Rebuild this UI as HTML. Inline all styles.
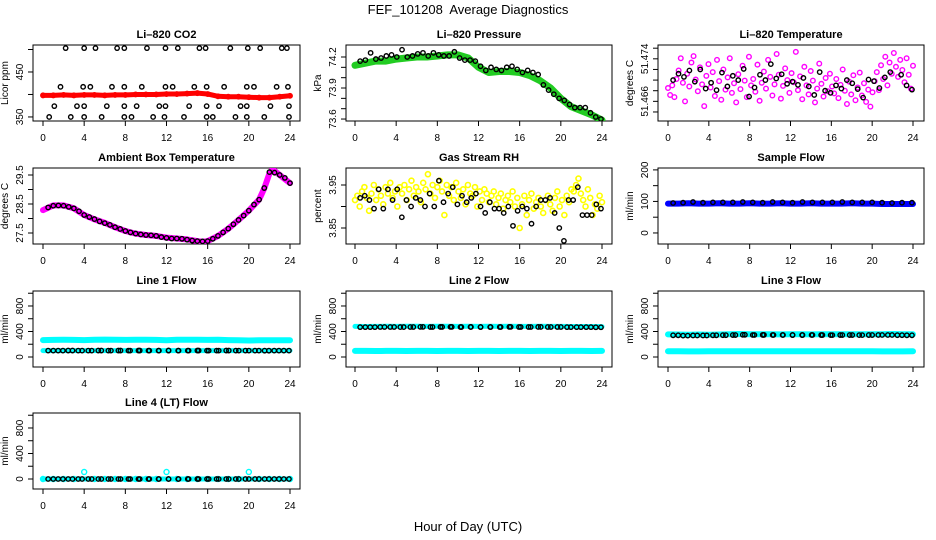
<!DOCTYPE html>
<html><head><meta charset="utf-8"><style>
html,body{margin:0;padding:0;background:#fff}
svg{display:block;font-family:"Liberation Sans",sans-serif}
</style></head><body>
<svg id="chart" width="936" height="540" viewBox="0 0 936 540">
<text x="468" y="14" text-anchor="middle" font-size="13" style="white-space:pre">FEF_101208  Average Diagnostics</text>
<text x="468" y="531" text-anchor="middle" font-size="13">Hour of Day (UTC)</text>
</svg>
<script>
// ---- data ----
const co2Red = [398,398,399,398,399,399,398,399,399,400,400,400,401,401,402,403,401,396,395,395,394,393,393,395,397];
const co2BlackT = [2.2,4.0,5.1,7.2,7.9,10.1,11.9,13.1,15.2,15.8,18.2,19.9,21.1,23.2,23.7,1.7,3.9,4.6,6.7,7.9,9.6,11.9,12.6,14.7,15.9,17.6,19.8,20.5,22.7,23.8,1.1,3.3,4.0,6.2,7.9,9.1,11.3,11.9,14.2,15.9,17.1,19.2,19.8,22.1,23.9,0.6,2.7,4.0,5.7,7.9,8.6,10.7,11.8,13.7,15.9,16.5,18.7,19.8,21.5,23.9];
const co2BlackV = [503,503,503,503,503,503,503,503,503,503,503,503,503,503,503,417,417,417,417,417,417,417,417,417,417,417,417,417,417,417,374,374,374,374,374,374,374,374,374,374,374,374,374,374,374,350,350,350,350,350,350,350,350,350,350,350,350,350,350,350];
const presGreen = [74.12,74.14,74.16,74.16,74.18,74.19,74.20,74.20,74.21,74.22,74.22,74.19,74.10,74.05,74.06,74.06,74.05,74.02,73.97,73.90,73.80,73.72,73.68,73.64,73.59];
const presBlack = [74.16,74.17,74.24,74.18,74.19,74.21,74.22,74.20,74.27,74.20,74.21,74.23,74.24,74.21,74.24,74.22,74.21,74.21,74.25,74.19,74.17,74.17,74.16,74.11,74.07,74.10,74.08,74.07,74.10,74.11,74.08,74.05,74.07,74.05,74.03,73.93,73.88,73.84,73.80,73.78,73.74,73.71,73.71,73.71,73.66,73.62,73.60];
const tempMagenta = [51.4685,51.4672,51.4690,51.4668,51.4702,51.4718,51.4741,51.4695,51.4660,51.4712,51.4688,51.4733,51.4745,51.4701,51.4679,51.4724,51.4692,51.4651,51.4708,51.4730,51.4686,
51.4715,51.4670,51.4738,51.4698,51.4663,51.4720,51.4682,51.4705,51.4741,51.4676,51.4694,51.4658,51.4711,51.4683,51.4727,51.4699,51.4668,51.4744,51.4690,
51.4702,51.4678,51.4729,51.4661,51.4695,51.4716,51.4684,51.4738,51.4706,51.4671,51.4692,51.4749,51.4710,51.4665,51.4689,51.4722,51.4700,51.4676,51.4713,
51.4696,51.4753,51.4681,51.4707,51.4664,51.4725,51.4690,51.4673,51.4717,51.4699,51.4658,51.4684,51.4731,51.4693,51.4669,51.4704,51.4679,51.4712,51.4688,
51.4675,51.4702,51.4666,51.4691,51.4720,51.4680,51.4655,51.4697,51.4673,51.4709,51.4662,51.4686,51.4714,51.4671,51.4694,51.4659,51.4682,51.4650,51.4677,
51.4698,51.4715,51.4681,51.4728,51.4702,51.4744,51.4690,51.4733,51.4712,51.4751,51.4725,51.4706,51.4738,51.4719,51.4696,51.4741,51.4710,51.4684,51.4727];
const tempBlack = [51.4700,51.4712,51.4706,51.4718,51.4697,51.4720,51.4684,51.4695,51.4681,51.4714,51.4688,51.4708,51.4700,51.4721,51.4669,51.4686,51.4710,51.4700,51.4730,51.4703,51.4711,51.4693,51.4697,51.4691,51.4704,51.4688,51.4672,51.4715,51.4680,51.4676,51.4690,51.4684,51.4700,51.4694,51.4683,51.4667,51.4701,51.4698,51.4685,51.4705,51.4715,51.4773,51.4710,51.4690,51.4682];
const ambT = [0,1,2,3,4,5,6,7,8,9,10,11,12,13,14,15,15.5,16,17,18,19,20,21,21.5,22,22.3,23,24];
const ambV = [28.29,28.45,28.45,28.35,28.12,27.97,27.85,27.70,27.57,27.48,27.43,27.40,27.34,27.31,27.28,27.22,27.20,27.22,27.40,27.65,27.95,28.27,28.65,29.04,29.55,29.70,29.50,29.22];
const ambBlack = [28.38,28.44,28.45,28.44,28.40,28.35,28.25,28.12,28.05,27.98,27.90,27.84,27.78,27.70,27.64,27.57,27.52,27.48,27.45,27.43,27.42,27.40,27.36,27.33,27.31,27.31,27.30,27.27,27.24,27.22,27.21,27.22,27.30,27.40,27.52,27.65,27.80,27.95,28.10,28.27,28.48,28.65,29.05,29.60,29.58,29.50,29.40,29.22];
const rhYellow = [3.915,3.925,3.900,3.935,3.945,3.920,3.890,3.930,3.950,3.915,3.940,3.925,3.905,3.945,3.930,3.955,3.920,3.935,3.900,3.945,
3.930,3.950,3.915,3.940,3.960,3.925,3.945,3.935,3.910,3.955,3.940,3.975,3.930,3.950,3.920,3.945,3.960,3.935,3.880,3.950,
3.925,3.945,3.915,3.955,3.935,3.920,3.940,3.905,3.950,3.930,3.925,3.945,3.900,3.935,3.915,3.940,3.930,3.910,3.925,3.935,
3.905,3.920,3.930,3.895,3.915,3.925,3.910,3.935,3.900,3.920,3.850,3.905,3.925,3.880,3.915,3.930,3.895,3.910,3.920,3.900,
3.885,3.915,3.925,3.905,3.890,3.920,3.935,3.900,3.915,3.880,3.925,3.910,3.940,3.935,3.950,3.965,3.930,3.915,3.900,3.940,
3.920,3.880,3.905,3.895,3.925,3.910];
const rhBlack = [3.92,3.925,3.915,3.895,3.94,3.895,3.94,3.915,3.94,3.875,3.915,3.90,3.92,3.915,3.90,3.93,3.90,3.96,3.91,3.93,3.945,3.905,3.925,3.91,3.92,3.93,3.90,3.885,3.91,3.895,3.895,3.885,3.90,3.855,3.89,3.90,3.895,3.86,3.90,3.915,3.915,3.92,3.885,3.85,3.82,3.915,3.915,3.945,3.88,3.88,3.88,3.905,3.895];
const sampleBlue = [93,93,94,93,93,94,93,93,94,93,93,94,93,93,94,93,93,93,94,93,93,92,92,92,92];
const sampleBlack = [95,96,98,96,97,97,97,98,97,96,98,97,96,98,97,97,97,98,97,97,97,96,95,96,96];
const line1Hi = [265,268,270,268,265,270,272,270,268,270,270,268,262,270,270,270,268,270,265,262,258,262,262,262,262];
const line1Lo = [100,100,100,100,100,100,100,100,100,100,100,100,100,100,100,100,100,100,100,100,100,100,100,100,100];
const line1Black = [100,100,101,100,100,101,100,101,100,101,100,100,101,100,100,101,100,100,101,100,100,100,99,100,100];
const line2Hi = [480,478,480,482,480,481,482,480,481,482,480,481,480,481,480,482,480,480,481,480,480,478,478,478,476];
const line2Lo = [95,95,94,95,95,94,95,95,94,95,95,94,95,95,94,95,95,94,95,95,94,95,95,94,95];
const line2Black = [468,468,470,470,469,470,472,470,471,472,470,471,470,470,470,472,470,470,471,470,470,468,468,468,466];
const line3Hi = [355,352,350,352,348,352,358,360,358,356,356,355,356,356,355,356,356,358,356,356,356,358,360,358,356];
const line3Lo = [90,90,88,88,90,90,90,90,90,90,90,90,90,90,90,90,90,90,90,90,90,88,88,88,90];
const line3Black = [340,335,338,338,340,342,344,348,345,346,345,345,344,344,345,344,343,344,344,343,344,345,345,342,340];
const line4Cyan = [0,0,0,0,110,0,0,0,0,0,0,0,110,0,0,0,0,0,0,0,110,0,0,0,0];
const line4Black = [0,0,0,0,0,0,0,0,0,0,0,0,0,0,0,0,0,0,0,0,0,0,0,0,0];
const xTicks = [0,4,8,12,16,20,24];
const hours = [0,1,2,3,4,5,6,7,8,9,10,11,12,13,14,15,16,17,18,19,20,21,22,23,24];

// ---- layout ----
const NS = 'http://www.w3.org/2000/svg';
const svg = document.getElementById('chart');
const COLS = [{l:33,r:300,x0:43,x24:290},{l:346,r:612,x0:355,x24:602},{l:658,r:924,x0:668,x24:913}];
const ROWS = [{t:45,b:121},{t:168,b:244},{t:291,b:367},{t:413,b:489}];
function mk(tag, attrs, parent){const e=document.createElementNS(NS,tag);for(const k in attrs)e.setAttribute(k,attrs[k]);(parent||svg).appendChild(e);return e;}
function evenT(n,a,b){const r=[];for(let i=0;i<n;i++)r.push(a+(b-a)*i/(n-1));return r;}

function panel(name, title, ci, ri, ymin, ymax, ticks, labels, ylab){
  const c=COLS[ci], r=ROWS[ri];
  const g=mk('g',{});
  
  
  const sx=h=>c.x0+(c.x24-c.x0)*h/24;
  const sy=v=>r.b-(v-ymin)/(ymax-ymin)*(r.b-r.t);
  const tt=mk('text',{x:(c.l+c.r)/2,y:r.t-7,'text-anchor':'middle','font-size':11,'font-weight':'bold'},g);
  tt.textContent=title;
  
  
  const xa=mk('g',{},g);
  
  
  xTicks.forEach(h=>{
    mk('line',{x1:sx(h),x2:sx(h),y1:r.b,y2:r.b+5,stroke:'#000'},xa);
    const t=mk('text',{x:sx(h),y:r.b+20,'text-anchor':'middle','font-size':10},xa);t.textContent=h;
  });
  mk('line',{x1:sx(0),x2:sx(24),y1:r.b,y2:r.b,stroke:'#000'},xa);
  const ya=mk('g',{},g);
  
  
  ticks.forEach(v=>mk('line',{x1:c.l-5,x2:c.l,y1:sy(v),y2:sy(v),stroke:'#000'},ya));
  labels.forEach(v=>{
    const x=c.l-10,y=sy(v);
    const t=mk('text',{x:x,y:y,'text-anchor':'middle','font-size':10,transform:`rotate(-90 ${x} ${y})`},ya);
    t.textContent=String(v);
  });
  const yl=mk('text',{x:c.l-25,y:(r.t+r.b)/2,'text-anchor':'middle','font-size':10,transform:`rotate(-90 ${c.l-25} ${(r.t+r.b)/2})`},g);
  yl.textContent=ylab;
  
  
  const box=mk('rect',{x:c.l,y:r.t,width:c.r-c.l,height:r.b-r.t,fill:'none',stroke:'#000'},g);
  
  
  const clipId='clip-'+name;
  const cp=mk('clipPath',{id:clipId},g);mk('rect',{x:c.l,y:r.t,width:c.r-c.l,height:r.b-r.t},cp);
  const plot=mk('g',{'clip-path':`url(#${clipId})`},g);
  return {sx,sy,plot};
}
function band(p,name,ts,vs,color,w){
  const d=ts.map((t,i)=>(i?'L':'M')+p.sx(t).toFixed(1)+' '+p.sy(vs[i]).toFixed(1)).join(' ');
  const e=mk('path',{d:d,fill:'none',stroke:color,'stroke-width':w,'stroke-linecap':'round','stroke-linejoin':'round'},p.plot);
  
  
}
function pts(p,name,ts,vs,color,rad,sw){
  const g=mk('g',{},p.plot);
  
  
  ts.forEach((t,i)=>mk('circle',{cx:p.sx(t),cy:p.sy(vs[i]),r:rad,fill:'none',stroke:color,'stroke-width':sw},g));
}

// CO2
let p=panel('co2','Li\u2013820 CO2',0,0,341,510,[350,400,450,500],[350,450],'Licor ppm');
band(p,'co2-red-series',hours,co2Red,'#ff0000',5);
pts(p,'co2-red-points',hours,co2Red,'#ff0000',2.3,1.3);
pts(p,'co2-black-points',co2BlackT,co2BlackV,'#000',2.2,1.4);
// Pressure
p=panel('pressure','Li\u2013820 Pressure',1,0,73.581,74.316,[73.6,73.7,73.8,73.9,74.0,74.1,74.2],[73.6,73.9,74.2],'kPa');
band(p,'pressure-green-series',hours,presGreen,'#22cc22',7);
pts(p,'pressure-green-points',hours,presGreen,'#22cc22',2.3,1.3);
pts(p,'pressure-black-points',evenT(presBlack.length,0.5,23.9),presBlack,'#000',2.2,1.4);
// Temperature
p=panel('temperature','Li\u2013820 Temperature',2,0,51.4623,51.4766,[51.464,51.466,51.468,51.470,51.472,51.474,51.476],['51.466','51.474'].map(Number),'degrees C');
pts(p,'temperature-magenta-points',evenT(tempMagenta.length,0,24),tempMagenta,'#ff00ff',2.3,1.4);
pts(p,'temperature-black-points',evenT(tempBlack.length,0.5,23.9),tempBlack,'#000',2.2,1.4);
// Ambient
p=panel('ambient','Ambient Box Temperature',0,1,27.121,29.741,[27.5,28.0,28.5,29.0,29.5],[27.5,28.5,29.5],'degrees C');
band(p,'ambient-magenta-series',ambT,ambV,'#ff00ff',6);
pts(p,'ambient-black-points',evenT(ambBlack.length,0.5,24),ambBlack,'#000',2.2,1.4);
// RH
p=panel('rh','Gas Stream RH',1,1,3.8128,3.9895,[3.85,3.90,3.95],[3.85,3.95],'percent');
pts(p,'rh-yellow-points',evenT(rhYellow.length,0,24),rhYellow,'#ffff00',2.5,1.6);
pts(p,'rh-black-points',evenT(rhBlack.length,0.5,23.9),rhBlack,'#000',2.2,1.4);
// Sample flow
p=panel('sample-flow','Sample Flow',2,1,-35,206,[0,50,100,150,200],[0,100,200],'ml/min');
band(p,'sample-flow-blue-series',hours,sampleBlue,'#0000ff',6);
pts(p,'sample-flow-black-points',evenT(sampleBlack.length,0.5,23.9),sampleBlack,'#000',2.2,1.4);
// Line flows
const FT=[0,200,400,600,800,1000], FL=[0,400,800];
p=panel('line1-flow','Line 1 Flow',0,2,-157,1035,FT,FL,'ml/min');
band(p,'line1-cyan-high',hours,line1Hi,'#00ffff',6);
band(p,'line1-cyan-low',hours,line1Lo,'#00ffff',5);
pts(p,'line1-black-points',evenT(line1Black.length,0.5,23.9),line1Black,'#000',2.2,1.4);
pts(p,'line1-black-mid-points',evenT(line1Black.length,1.0,23.4),line1Black,'#000',2.2,1.4);
p=panel('line2-flow','Line 2 Flow',1,2,-157,1035,FT,FL,'ml/min');
band(p,'line2-cyan-high',hours,line2Hi,'#00ffff',5);
band(p,'line2-cyan-low',hours,line2Lo,'#00ffff',6);
pts(p,'line2-black-points',evenT(line2Black.length,0.5,23.9),line2Black,'#000',2.2,1.4);
pts(p,'line2-black-mid-points',evenT(line2Black.length,1.0,23.4),line2Black,'#000',2.2,1.4);
p=panel('line3-flow','Line 3 Flow',2,2,-157,1035,FT,FL,'ml/min');
band(p,'line3-cyan-high',hours,line3Hi,'#00ffff',6);
band(p,'line3-cyan-low',hours,line3Lo,'#00ffff',6);
pts(p,'line3-black-points',evenT(line3Black.length,0.5,23.9),line3Black,'#000',2.2,1.4);
pts(p,'line3-black-mid-points',evenT(line3Black.length,1.0,23.4),line3Black,'#000',2.2,1.4);
p=panel('line4-flow','Line 4 (LT) Flow',0,3,-157,1035,FT,FL,'ml/min');
band(p,'line4-cyan-series',hours,line4Cyan.map(()=>0),'#00ffff',5);
pts(p,'line4-cyan-points',hours,line4Cyan,'#00ffff',2.5,1.4);
pts(p,'line4-black-points',evenT(line4Black.length,0.5,23.9),line4Black,'#000',2.2,1.4);
pts(p,'line4-black-mid-points',evenT(line4Black.length,1.0,23.4),line4Black,'#000',2.2,1.4);
</script>
</body></html>
